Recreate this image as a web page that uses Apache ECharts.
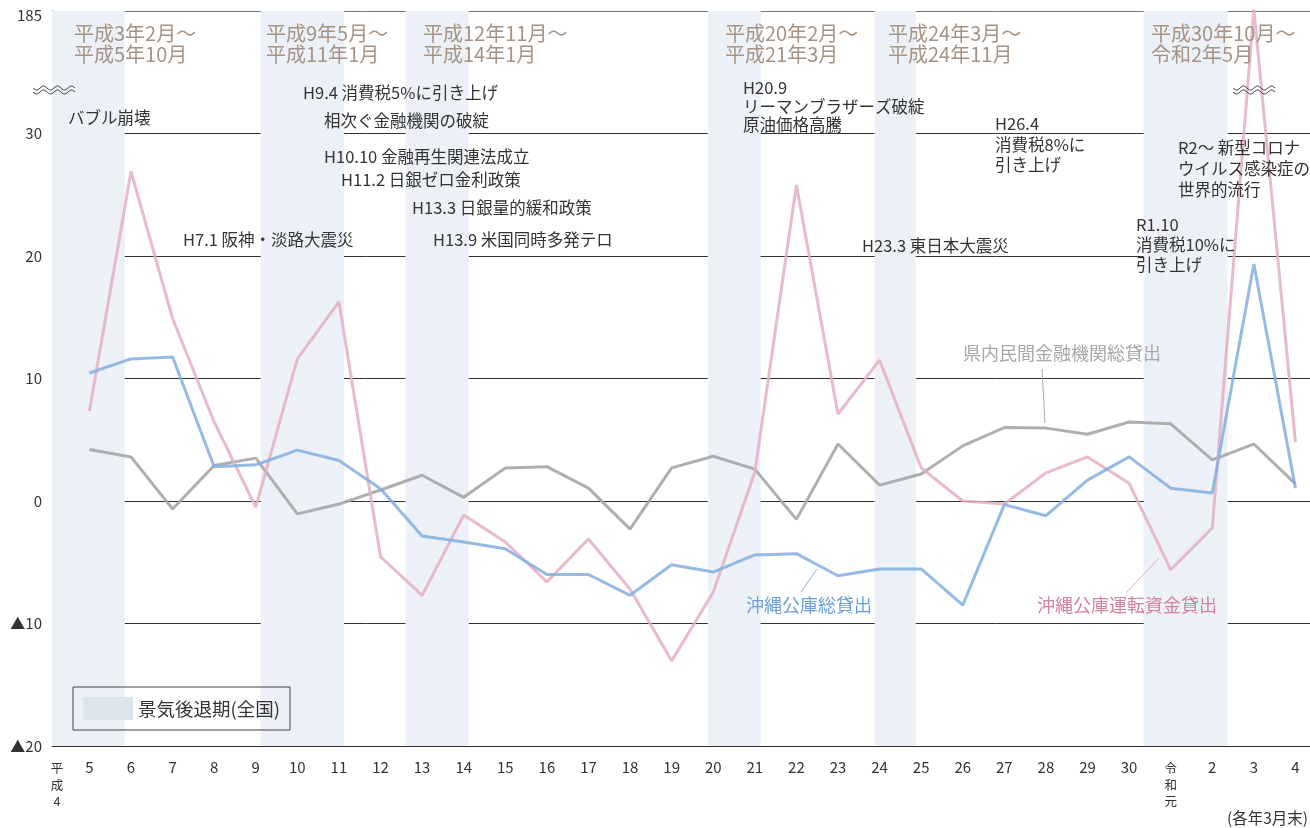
<!DOCTYPE html>
<html><head><meta charset="utf-8">
<script src="https://cdn.jsdelivr.net/npm/echarts@6/dist/echarts.min.js"></script>
<style>html,body{margin:0;padding:0;background:#fff}#c{width:1310px;height:828px}</style>
</head><body><div id="c"></div>
<script>
// x categories (各年3月末)
var xLabels = ['平成4','5','6','7','8','9','10','11','12','13','14','15','16','17','18','19','20','21','22','23','24','25','26','27','28','29','30','令和元','2','3','4'];
// 県内民間金融機関総貸出 (前年比 %)
var grayVals = [null,4.2,3.6,-0.65,2.9,3.5,-1.05,-0.25,0.9,2.1,0.3,2.7,2.8,1.05,-2.3,2.7,3.65,2.6,-1.5,4.65,1.3,2.2,4.5,6.0,5.95,5.45,6.45,6.3,3.35,4.65,1.4];
// 沖縄公庫総貸出
var blueVals = [null,10.45,11.6,11.75,2.8,2.95,4.15,3.3,1.0,-2.85,-3.35,-3.9,-6.0,-6.0,-7.7,-5.2,-5.8,-4.4,-4.3,-6.1,-5.55,-5.55,-8.5,-0.3,-1.2,1.7,3.6,1.05,0.65,19.35,1.05];
// 沖縄公庫運転資金貸出
var pinkVals = [null,7.35,26.9,14.9,6.45,-0.5,11.6,16.25,-4.55,-7.7,-1.15,-3.35,-6.6,-3.1,-7.2,-13.05,-7.45,2.35,25.8,7.1,11.5,2.7,0.0,-0.25,2.3,3.6,1.45,-5.6,-2.2,187,4.8];
// 景気後退期 (x index units on the category scale)
var recStart = [0.1, 5.12, 8.6, 15.87, 19.88, 26.35];
var recEnd   = [1.85, 7.12, 10.12, 17.14, 20.87, 28.37];
var recTitles = ['平成3年2月〜\n平成5年10月','平成9年5月〜\n平成11年1月','平成12年11月〜\n平成14年1月','平成20年2月〜\n平成21年3月','平成24年3月〜\n平成24年11月','平成30年10月〜\n令和2年5月'];
// y tick labels
var yTickVals = [-20,-10,0,10,20,30,40];
var yTickText = ['▲20','▲10','0','10','20','30','185'];

var BREAK_LOW = 30, BREAK_HIGH = 185, BREAK_SPAN = 10;
function mapY(v){ if(v==null) return null; return v>BREAK_LOW ? BREAK_LOW + (v-BREAK_LOW)*BREAK_SPAN/(BREAK_HIGH-BREAK_LOW) : v; }
function toData(arr){ var d=[]; for(var i=0;i<arr.length;i++){ if(arr[i]!=null) d.push([i, mapY(arr[i])]); } return d; }

var FONT = "'Noto Sans CJK JP','Noto Sans',sans-serif";
var chart = echarts.init(document.getElementById('c'));

var graphics = [];
var titleX = [74, 266, 423, 725, 888, 1151];
recTitles.forEach(function(t,i){
  graphics.push({type:'text', left:titleX[i], top:23, z:10, style:{text:t, fill:'#a69383', font:'20px '+FONT, lineHeight:21}});
});
var notes = [
  ['バブル崩壊',68,118,20],
  ['H9.4 消費税5%に引き上げ',303,93,20],
  ['相次ぐ金融機関の破綻',324,121,20],
  ['H10.10 金融再生関連法成立',324,157,20],
  ['H11.2 日銀ゼロ金利政策',341,180,20],
  ['H13.3 日銀量的緩和政策',412,208,20],
  ['H7.1 阪神・淡路大震災',183,240,20],
  ['H13.9 米国同時多発テロ',433,240,20],
  ['H20.9\nリーマンブラザーズ破綻\n原油価格高騰',743,88,18.5],
  ['H26.4\n消費税8%に\n引き上げ',995,124,20.5],
  ['R2〜 新型コロナ\nウイルス感染症の\n世界的流行',1178,148,21],
  ['R1.10\n消費税10%に\n引き上げ',1136,225,20],
  ['H23.3 東日本大震災',862,246,20]
];
notes.forEach(function(n){
  graphics.push({type:'text', left:n[1], top:n[2]-n[3]/2, z:10, style:{text:n[0], fill:'#333', font:'16.5px '+FONT, lineHeight:n[3]}});
});
// series labels + leaders
graphics.push({type:'text', left:963, top:344, z:10, style:{text:'県内民間金融機関総貸出', fill:'#a8a8a8', font:'18px '+FONT}});
graphics.push({type:'text', left:746, top:596, z:10, style:{text:'沖縄公庫総貸出', fill:'#6a9fd9', font:'18px '+FONT}});
graphics.push({type:'text', left:1037, top:596, z:10, style:{text:'沖縄公庫運転資金貸出', fill:'#d6809f', font:'18px '+FONT}});
graphics.push({type:'line', z:10, shape:{x1:1042,y1:369,x2:1045,y2:423}, style:{stroke:'#aaa', lineWidth:1}});
graphics.push({type:'line', z:10, shape:{x1:801,y1:592,x2:817,y2:569}, style:{stroke:'#8ab3e2', lineWidth:1}});
graphics.push({type:'line', z:10, shape:{x1:1126,y1:593,x2:1159,y2:558}, style:{stroke:'#e2adc2', lineWidth:1}});
// unit note
graphics.push({type:'text', right:2, top:810, z:10, style:{text:'(各年3月末)', fill:'#333', font:'15.5px '+FONT}});
// break marks
function wave(x0,y0,len){
  var pts=[]; for(var k=0;k<=48;k++){ pts.push([x0+len*k/48, y0+2*Math.sin(2*Math.PI*3*k/48)]); } return pts;
}
[[33,88],[1233,88]].forEach(function(p){
  graphics.push({type:'polyline', z:20, shape:{points:wave(p[0],p[1],42)}, style:{stroke:'#333', lineWidth:1, fill:null}});
  graphics.push({type:'polyline', z:20, shape:{points:wave(p[0],p[1]+4,42)}, style:{stroke:'#333', lineWidth:1, fill:null}});
});

var xCustom = [0.22]; for (var i=1;i<xLabels.length;i++) xCustom.push(i);

chart.setOption({
  animation:false,
  textStyle:{fontFamily:FONT},
  grid:{left:52, right:0, top:11, bottom:82},
  legend:{
    left:73, top:687, padding:[10,10], borderColor:'#444', borderWidth:1,
    itemWidth:50, itemHeight:23, itemGap:0, selectedMode:false,
    textStyle:{fontSize:18.5, color:'#333', fontFamily:FONT},
    data:[{name:'景気後退期(全国)', icon:'rect', itemStyle:{color:'#dbe6ee'}}]
  },
  xAxis:{
    type:'value', min:0.1, max:30.35,
    axisLine:{show:true, onZero:false, lineStyle:{color:'#333', width:1}},
    axisTick:{show:false},
    splitLine:{show:false},
    axisLabel:{
      customValues:xCustom, margin:14, color:'#333', fontSize:15,
      formatter:function(v){
        var s = xLabels[Math.round(v)];
        if (s.length>2 && !/^\d+$/.test(s)) return s.split('').map(function(c){return '{v|'+c+'}';}).join('\n');
        return s;
      },
      rich:{v:{fontSize:12.5, lineHeight:16.5, color:'#333'}}
    }
  },
  yAxis:{
    type:'value', min:-20, max:40, interval:10,
    axisLine:{show:true, lineStyle:{color:'#333'}},
    axisTick:{show:false},
    splitLine:{show:true, lineStyle:{color:['#333','#333','#333','#333','#333','#333','#777'], width:1}},
    axisLabel:{
      margin:10, color:'#333', fontSize:15,
      formatter:function(v){ var i=yTickVals.indexOf(v); var t = i>=0 ? yTickText[i] : ''; return v===40 ? '{t|'+t+'}' : t; },
      rich:{t:{fontSize:15, color:'#333', padding:[8,0,0,0]}}
    }
  },
  series:[
    {name:'景気後退期(全国)', type:'line', data:[], itemStyle:{color:'#dbe6ee'}, z:0,
     markArea:{silent:true, itemStyle:{color:'#ebf1f6'},
       data: recStart.map(function(s,i){ return [{xAxis:s},{xAxis:recEnd[i]}]; })}},
    {name:'県内民間金融機関総貸出', type:'line', data:toData(grayVals), symbol:'none', z:3,
     lineStyle:{color:'#a6a6a6', width:3, opacity:0.9}},
    {name:'沖縄公庫運転資金貸出', type:'line', data:toData(pinkVals), symbol:'none', z:4, clip:false,
     lineStyle:{color:'#e4aec3', width:3, opacity:0.85}},
    {name:'沖縄公庫総貸出', type:'line', data:toData(blueVals), symbol:'none', z:5,
     lineStyle:{color:'#82aee1', width:3, opacity:0.85}}
  ],
  graphic:graphics
});
</script></body></html>
